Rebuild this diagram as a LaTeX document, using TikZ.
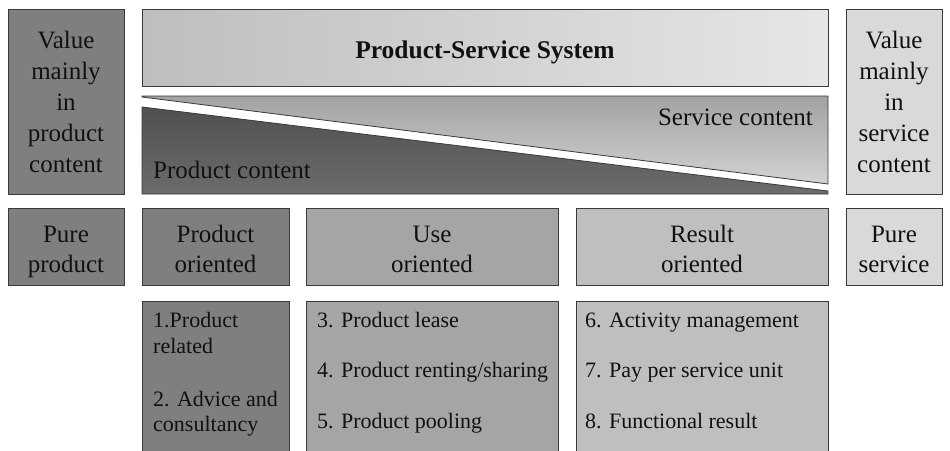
\documentclass[tikz,border=0pt]{standalone}
\usepackage{fontspec}
\setmainfont{LiberationSerif-Regular.ttf}[BoldFont=LiberationSerif-Bold.ttf]
\definecolor{bord}{HTML}{3A3A3A}
\definecolor{gA}{HTML}{7F7F7F}
\definecolor{gB}{HTML}{A5A5A5}
\definecolor{gC}{HTML}{BFBFBF}
\definecolor{gD}{HTML}{D9D9D9}
\definecolor{bannerL}{HTML}{BEBEBE}
\definecolor{bannerR}{HTML}{E6E6E6}
\definecolor{servT}{HTML}{A2A2A2}
\definecolor{servB}{HTML}{D2D2D2}
\definecolor{prodT}{HTML}{505050}
\definecolor{prodB}{HTML}{6C6C6C}
\definecolor{ink}{HTML}{111111}
\begin{document}
\begin{tikzpicture}[x=1pt,y=-1pt,
  box/.style={draw=bord, line width=0.8pt, inner sep=0pt, align=center, text=ink,
              font=\fontsize{25}{30}\selectfont},
  tall/.style={box, font=\fontsize{25}{31}\selectfont},
  item/.style={anchor=base west, inner sep=0pt, text=ink, font=\fontsize{22}{26}\selectfont},
  lbl/.style={inner sep=0pt, text=ink, font=\fontsize{25}{30}\selectfont},
  two/.style={inner sep=0pt, text=ink, align=center, anchor=base, font=\fontsize{25}{30}\selectfont}]
\useasboundingbox (0,0) rectangle (950,450);

% top row
\node[tall, fill=gA, minimum width=116, minimum height=185] (vprod) at (66,101.5)
  {Value\\mainly\\in\\product\\content};
\node[tall, fill=gD, minimum width=96, minimum height=185] (vserv) at (894,101.5)
  {Value\\mainly\\in\\service\\content};
\node[box, left color=bannerL, right color=bannerR, minimum width=686, minimum height=77] (pss) at (485,47.5) {};
\node[lbl, anchor=base, font=\fontsize{25.5}{30}\selectfont\bfseries] (psstxt) at (485,58) {Product-Service System};

% service / product content wedge
\draw[draw=bord, line width=0.8pt, top color=servT, bottom color=servB]
  (142,96) -- (828,96) -- (828,184) -- (142,97) -- cycle;
\draw[draw=bord, line width=0.8pt, top color=prodT, bottom color=prodB]
  (142,107) -- (828,191) -- (828,194) -- (142,194) -- cycle;
\node[lbl, anchor=base east] (servtxt) at (813,125) {Service content};
\node[lbl, anchor=base west] (prodtxt) at (153,178) {Product content};

% second row
\node[box, fill=gA, minimum width=116, minimum height=77] (pureprod) at (66,246.5) {};
\node[box, fill=gA, minimum width=147, minimum height=77] (prodor) at (215.5,246.5) {};
\node[box, fill=gB, minimum width=252, minimum height=77] (useor) at (432,246.5) {};
\node[box, fill=gC, minimum width=252, minimum height=77] (resor) at (702,246.5) {};
\node[box, fill=gD, minimum width=96, minimum height=77] (pureserv) at (894,246.5) {};
\node[two] (tpp) at (66,272) {Pure\\product};
\node[two] (tpo) at (215.5,272) {Product\\oriented};
\node[two] (tuo) at (432,272) {Use\\oriented};
\node[two] (tro) at (702,272) {Result\\oriented};
\node[two] (tps) at (894,272) {Pure\\service};

% third row
\node[box, fill=gA, minimum width=147, minimum height=180] (l1) at (215.5,391) {};
\node[box, fill=gB, minimum width=252, minimum height=180] (l2) at (432,391) {};
\node[box, fill=gC, minimum width=252, minimum height=180] (l3) at (702,391) {};

\node[item] (i1a) at (153,327) {1.Product};
\node[item] (i1b) at (153,353) {related};
\node[item] (i2a) at (153,406) {2. Advice and};
\node[item] (i2b) at (153,431) {consultancy};

\node[item] (i3) at (317,327) {3. Product lease};
\node[item] (i4) at (317,377) {4. Product renting/sharing};
\node[item] (i5) at (317,428) {5. Product pooling};

\node[item] (i6) at (585,327) {6. Activity management};
\node[item] (i7) at (585,377) {7. Pay per service unit};
\node[item] (i8) at (585,428) {8. Functional result};
\end{tikzpicture}
\end{document}
